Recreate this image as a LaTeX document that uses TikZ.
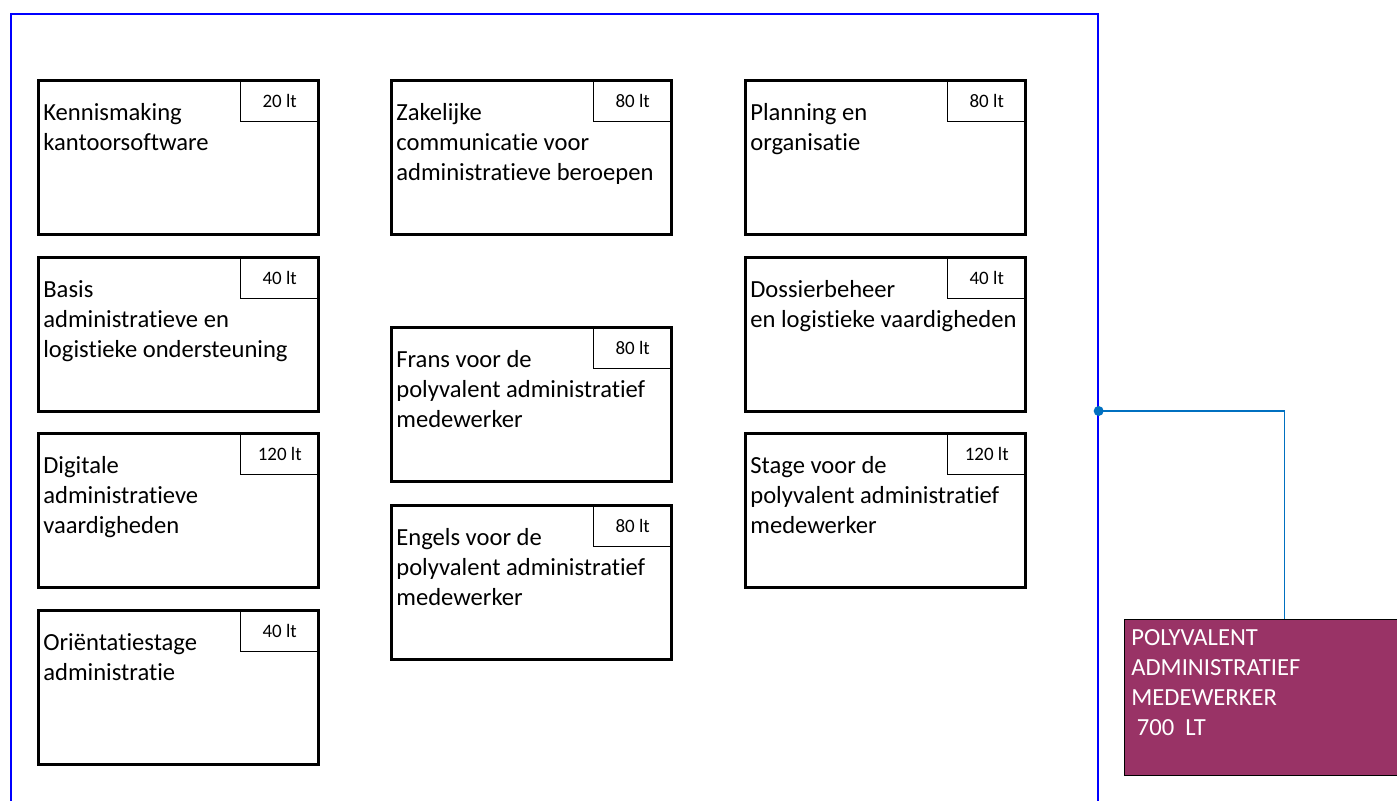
\documentclass[tikz,border=0pt]{standalone}
\usepackage{fontspec}
\setmainfont{Carlito}[Ligatures=NoCommon]
\usetikzlibrary{positioning}
\definecolor{framecol}{RGB}{0,0,255}
\definecolor{linkcol}{RGB}{0,112,192}
\definecolor{pavcol}{RGB}{153,51,102}

\begin{document}
\begin{tikzpicture}[x=0.02cm,y=-0.02cm,
    module/.style={draw,line width=1.6pt,minimum width=5.6cm,minimum height=3.08cm,inner sep=0,anchor=north west},
    hours/.style={draw,line width=0.6pt,minimum width=1.58cm,minimum height=0.84cm,inner sep=0,anchor=north east,font=\fontsize{10.8}{12}\selectfont},
    modtext/.style={anchor=north west,inner sep=0,align=left,font=\fontsize{14}{17.07}\selectfont},
    group/.style={draw=framecol,line width=0.85pt,minimum width=21.74cm,minimum height=15.88cm,inner sep=0},
    link/.style={draw=linkcol,line width=0.7pt},
    pav/.style={draw,fill=pavcol,line width=0.6pt,minimum width=6.4cm,minimum height=3.12cm,inner sep=0,anchor=north west}]

  \useasboundingbox (0,0) rectangle (1397,801);

  % outer frame of the training
  \node[group] (frame) at (554.5,411) {};

  % modules with their hours
  \foreach \nm/\x/\y/\u/\txt in {
      kennis/37/79/20 lt/{Kennismaking\\kantoorsoftware},
      basis/37/256/40 lt/{Basis\\administratieve en\\logistieke ondersteuning},
      digitaal/37/432/120 lt/{Digitale\\administratieve\\vaardigheden},
      orient/37/609/40 lt/{Oriëntatiestage\\administratie},
      zakelijk/390/79/80 lt/{Zakelijke\\communicatie voor\\administratieve beroepen},
      frans/390/326/80 lt/{Frans voor de\\polyvalent administratief\\medewerker},
      engels/390/504/80 lt/{Engels voor de\\polyvalent administratief\\medewerker},
      planning/744/79/80 lt/{Planning en\\organisatie},
      dossier/744/256/40 lt/{Dossierbeheer\\en logistieke vaardigheden},
      stage/744/432/120 lt/{Stage voor de\\polyvalent administratief\\medewerker}} {
    \node[module] (\nm) at (\x,\y) {};
    \node[hours] (\nm-u) at (\nm.north east) {\u};
    \node[modtext,xshift=0.12cm,yshift=-0.4cm] (\nm-t) at (\nm.north west) {\strut\txt};
  }

  % resulting qualification
  \node[pav] (pav) at (1124,619) {};
  \node[modtext,text=white,xshift=0.14cm,yshift=-0.1cm] (pav-t) at (pav.north west)
    {\strut POLYVALENT\\ADMINISTRATIEF\\MEDEWERKER\\~700~~LT};

  \draw[link] (frame.east) -| (pav.north);
  \fill[linkcol] (frame.east) circle (0.1cm);

\end{tikzpicture}
\end{document}
